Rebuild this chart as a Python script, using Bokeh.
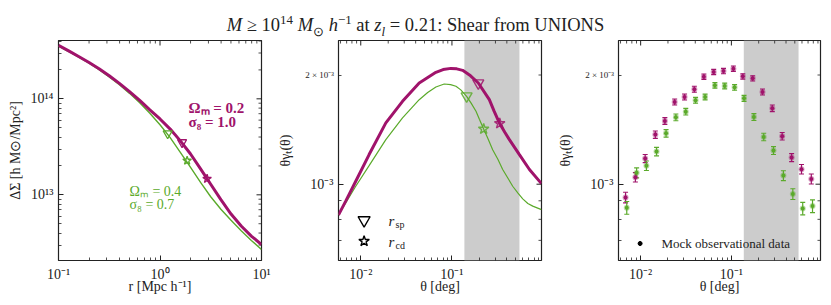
import numpy as np
from bokeh.plotting import figure
from bokeh.models import (FixedTicker, CustomJSTickFormatter, Label, BoxAnnotation,
                          Whisker, TeeHead, ColumnDataSource, Div, Range1d)
from bokeh.layouts import row, column
from bokeh.embed import file_html
from bokeh.resources import INLINE

# ---------------- data ----------------
# Left panel: excess surface density profiles
r_model = [0.1, 0.126, 0.158, 0.2, 0.251, 0.316, 0.398, 0.501, 0.631, 0.794, 1.0,
           1.26, 1.58, 2.0, 2.51, 3.16, 3.98, 5.01, 6.31, 7.94, 10.0]
ds_mag = [3.60e14, 3.16e14, 2.76e14, 2.39e14, 2.06e14, 1.74e14, 1.45e14, 1.19e14, 9.62e13, 7.67e13,
          6.17e13, 4.84e13, 3.67e13, 2.66e13, 1.86e13, 1.29e13, 8.91e12, 6.31e12, 4.73e12, 3.72e12, 3.04e12]
ds_grn = [3.54e14, 3.11e14, 2.72e14, 2.35e14, 2.01e14, 1.69e14, 1.40e14, 1.14e14, 9.12e13, 7.08e13,
          5.37e13, 3.94e13, 2.79e13, 1.93e13, 1.35e13, 9.55e12, 7.08e12, 5.43e12, 4.22e12, 3.35e12, 2.70e12]
# splashback (sp) and caustic-depletion (cd) radii markers
r_sp = {"mag": 1.65, "grn": 1.19}
ds_sp = {"mag": 3.52e13, "grn": 4.35e13}
r_cd = {"mag": 2.91, "grn": 1.85}
ds_cd = {"mag": 1.47e13, "grn": 2.27e13}

# Middle panel: model tangential shear
th_mag = [0.00569, 0.00684, 0.00881, 0.01235, 0.01884, 0.02871, 0.04375, 0.06668, 0.080, 0.0975, 0.113,
          0.1310, 0.160, 0.1946, 0.2572, 0.290, 0.3341, 0.380, 0.4266, 0.5495, 0.7079, 0.9588]
gt_mag = [8.22e-4, 8.98e-4, 1.019e-3, 1.207e-3, 1.476e-3, 1.692e-3, 1.901e-3, 2.034e-3, 2.070e-3, 2.086e-3,
          2.080e-3, 2.060e-3, 1.990e-3, 1.901e-3, 1.710e-3, 1.590e-3, 1.469e-3, 1.390e-3, 1.327e-3, 1.207e-3,
          1.098e-3, 1.004e-3]
th_grn = [0.00569, 0.00684, 0.00881, 0.01235, 0.01884, 0.02871, 0.04375, 0.0542, 0.06668, 0.0823, 0.0966,
          0.1107, 0.125, 0.1449, 0.163, 0.1836, 0.200, 0.2228, 0.250, 0.2797, 0.320, 0.3603, 0.410, 0.4640,
          0.530, 0.5978, 0.680, 0.7695, 0.9588]
gt_grn = [8.22e-4, 8.88e-4, 9.87e-4, 1.125e-3, 1.327e-3, 1.523e-3, 1.710e-3, 1.790e-3, 1.854e-3, 1.889e-3,
          1.882e-3, 1.862e-3, 1.820e-3, 1.747e-3, 1.670e-3, 1.589e-3, 1.510e-3, 1.420e-3, 1.330e-3, 1.245e-3,
          1.170e-3, 1.098e-3, 1.040e-3, 9.87e-4, 9.45e-4, 9.11e-4, 8.85e-4, 8.70e-4, 8.51e-4]
th_sp = {"mag": 0.1946, "grn": 0.1449}
gt_sp = {"mag": 1.90e-3, "grn": 1.75e-3}
th_cd = {"mag": 0.334, "grn": 0.2228}
gt_cd = {"mag": 1.47e-3, "grn": 1.42e-3}

# Right panel: mock observational data
obs_th_mag = [0.00682, 0.00875, 0.01122, 0.01452, 0.01849, 0.02371, 0.03048, 0.03908, 0.04977, 0.06383,
              0.08185, 0.1052, 0.1337, 0.1718, 0.2203, 0.2825, 0.3631, 0.4613, 0.5929, 0.7603]
obs_gt_mag = [9.19e-4, 1.045e-3, 1.177e-3, 1.370e-3, 1.494e-3, 1.685e-3, 1.740e-3, 1.827e-3, 1.979e-3, 2.039e-3,
              2.051e-3, 2.082e-3, 1.983e-3, 1.958e-3, 1.796e-3, 1.619e-3, 1.356e-3, 1.184e-3, 1.100e-3, 1.034e-3]
obs_err_mag = [3.1e-5, 3.1e-5, 3.0e-5, 3.2e-5, 3.2e-5, 3.2e-5, 3.3e-5, 3.5e-5, 3.3e-5, 3.4e-5,
               3.5e-5, 3.5e-5, 3.4e-5, 3.3e-5, 3.4e-5, 3.4e-5, 3.2e-5, 3.0e-5, 3.3e-5, 3.3e-5]
obs_th_grn = [0.00703, 0.00903, 0.01158, 0.01497, 0.01906, 0.02445, 0.03143, 0.04030, 0.05133, 0.06582,
              0.08441, 0.1085, 0.1379, 0.1771, 0.2272, 0.2913, 0.3744, 0.4757, 0.6114, 0.7841]
obs_gt_grn = [8.61e-4, 1.075e-3, 1.125e-3, 1.230e-3, 1.381e-3, 1.529e-3, 1.585e-3, 1.703e-3, 1.740e-3, 1.874e-3,
              1.866e-3, 1.850e-3, 1.725e-3, 1.532e-3, 1.350e-3, 1.238e-3, 1.056e-3, 9.39e-4, 8.57e-4, 8.70e-4]
obs_err_grn = [3.5e-5, 3.4e-5, 3.4e-5, 3.3e-5, 3.3e-5, 3.3e-5, 3.3e-5, 3.2e-5, 3.2e-5, 3.4e-5,
               3.4e-5, 3.4e-5, 3.3e-5, 3.3e-5, 3.2e-5, 3.1e-5, 3.3e-5, 3.2e-5, 3.4e-5, 3.5e-5]

# shaded angular range
shade_range = [0.137, 0.55]

# axis ranges and ticks
left_xr = [0.1, 10.0]
left_yr = [2.07e12, 4.05e14]
ang_xr = [0.0057, 0.96]
ang_yr = [6.16e-4, 2.49e-3]

left_xticks = [0.1, 1.0, 10.0]
left_xlabels = ["10⁻¹", "10⁰", "10¹"]
left_xminor = [0.2, 0.3, 0.4, 0.5, 0.6, 0.7, 0.8, 0.9, 2, 3, 4, 5, 6, 7, 8, 9]
left_yticks = [1e13, 1e14]
left_ylabels = ["10¹³", "10¹⁴"]
left_yminor = [3e12, 4e12, 5e12, 6e12, 7e12, 8e12, 9e12, 2e13, 3e13, 4e13, 5e13, 6e13, 7e13, 8e13, 9e13,
               2e14, 3e14, 4e14]
ang_xticks = [0.01, 0.1]
ang_xlabels = ["10⁻²", "10⁻¹"]
ang_xminor = [0.006, 0.007, 0.008, 0.009, 0.02, 0.03, 0.04, 0.05, 0.06, 0.07, 0.08, 0.09,
              0.2, 0.3, 0.4, 0.5, 0.6, 0.7, 0.8, 0.9]
ang_yticks = [1e-3]
ang_ylabels = ["10⁻³"]
ang_yminor = [7e-4, 8e-4, 9e-4, 2e-3]
ang_ysmall_tick = 2e-3
ang_ysmall_label = "2 × 10⁻³"

# ---------------- style ----------------
MAG = "#A0136B"
GRN = "#5BAA2B"
INK = "#222222"
FONT = "Liberation Serif"
FRAME_H = 220
H = FRAME_H + 37
TITLE_H = 40
PAGE_W = 831
# frame left edges (page px) of middle and right panels, used for the small tick label
FRAME_LEFTS = [338, 618]

SUP = 'style="font-size:70%; line-height:0;"'
title_text = (f'<i>M</i> ≥ 10<sup {SUP}>14</sup> <i>M</i><sub {SUP}>⊙</sub> '
              f'<i>h</i><sup {SUP}>−1</sup> at <i>z<sub {SUP}>l</sub></i> = 0.21: Shear from UNIONS')

# position of the 2 x 10^-3 tick inside the frame (px from top)
ysmall_from_top = (np.log10(ang_yr[1]) - np.log10(ang_ysmall_tick)) / \
    (np.log10(ang_yr[1]) - np.log10(ang_yr[0])) * FRAME_H
small_spans = "".join(
    f'<div style="position:absolute; left:{fl - 4 - 60}px; width:60px; text-align:right; '
    f'top:{TITLE_H + ysmall_from_top - 6:.1f}px; font-size:9px; line-height:12px; z-index:20; '
    f'white-space:nowrap;">{ang_ysmall_label}</div>'
    for fl in FRAME_LEFTS)
title_html = (f'<div style="position:relative; width:{PAGE_W}px; height:{TITLE_H}px;">'
              f'<div style="position:absolute; left:0px; width:{PAGE_W}px; top:15px; line-height:20px; '
              f'white-space:nowrap; text-align:center;">{title_text}</div>{small_spans}</div>')

FMT_CODE = """
for (let i = 0; i < tk.length; i++) {
  if (Math.abs(Math.log10(tick) - Math.log10(tk[i])) < 1e-6) { return lb[i]; }
}
return "";
"""


def frac_log(rng, f):
    lo, hi = np.log10(rng[0]), np.log10(rng[1])
    return 10 ** (lo + f * (hi - lo))


def style_axis(ax, ticks, minor, labels, standoff):
    ax.ticker = FixedTicker(ticks=ticks, minor_ticks=minor)
    ax.axis_line_color = None
    ax.major_tick_in = 5
    ax.major_tick_out = 0
    ax.minor_tick_in = 3
    ax.minor_tick_out = 0
    ax.major_tick_line_color = INK
    ax.minor_tick_line_color = INK
    ax.major_tick_line_width = 1
    ax.minor_tick_line_width = 0.8
    ax.formatter = CustomJSTickFormatter(args=dict(tk=ticks, lb=labels), code=FMT_CODE)
    ax.major_label_text_font = FONT
    ax.major_label_text_font_size = "14px"
    ax.major_label_text_color = INK
    ax.major_label_standoff = standoff
    ax.axis_label_text_font = FONT
    ax.axis_label_text_font_size = "14px"
    ax.axis_label_text_font_style = "normal"
    ax.axis_label_text_color = INK


def mirror_ticks(p, xr, yr, fw, fh, xt, xm, yt, ym):
    # inward ticks on the top and right edges of the frame
    ytop = yr[1]
    xs0, ys0, xs1, ys1 = [], [], [], []
    for ticks, L in ((xt, 5), (xm, 3)):
        for t in ticks:
            xs0.append(t); ys0.append(ytop); xs1.append(t); ys1.append(frac_log(yr, 1 - L / fh))
    xright = xr[1]
    for ticks, L in ((yt, 5), (ym, 3)):
        for t in ticks:
            xs0.append(xright); ys0.append(t); xs1.append(frac_log(xr, 1 - L / fw)); ys1.append(t)
    widths = [1.0] * (len(xt)) + [0.8] * len(xm) + [1.0] * len(yt) + [0.8] * len(ym)
    p.segment(xs0, ys0, xs1, ys1, line_color=INK, line_width=widths)


def make_fig(width, bl, br, fw, xr, yr, xt, xl, xm, yt, yl, ym, xlabel, ylabel, ylab_standoff):
    p = figure(width=width, height=H, x_axis_type="log", y_axis_type="log",
               x_range=Range1d(*xr), y_range=Range1d(*yr),
               output_backend="svg", toolbar_location=None,
               min_border_left=bl, min_border_right=br, min_border_top=0, min_border_bottom=37)
    p.outline_line_color = INK
    p.outline_line_width = 1.2
    p.xgrid.visible = False
    p.ygrid.visible = False
    bottom = p.below[0]
    leftax = p.left[0]
    style_axis(bottom, xt, xm, xl, 6)
    style_axis(leftax, yt, ym, yl, 5)
    bottom.axis_label = xlabel
    leftax.axis_label = ylabel
    bottom.axis_label_standoff = -6
    leftax.axis_label_standoff = ylab_standoff
    mirror_ticks(p, xr, yr, fw, FRAME_H, xt, xm, yt, ym)
    return p


# ---------------- left panel ----------------
p1 = make_fig(271, 58, 10, 203, left_xr, left_yr, left_xticks, left_xlabels, left_xminor,
              left_yticks, left_ylabels, left_yminor, "r [Mpc h⁻¹]", "ΔΣ [h M⊙/Mpc²]", 4)
p1.line(r_model, ds_grn, line_color=GRN, line_width=1.4)
p1.line(r_model, ds_mag, line_color=MAG, line_width=3)
for key, col in (("mag", MAG), ("grn", GRN)):
    p1.scatter([r_sp[key]], [ds_sp[key]], marker="inverted_triangle", size=9, fill_alpha=0,
               line_color=col, line_width=1.3)
    p1.scatter([r_cd[key]], [ds_cd[key]], marker="star", size=9, fill_alpha=0,
               line_color=col, line_width=1.3)

for txt, x, y, col, fs, bold in (("Ωₘ = 0.2", 130, 153, MAG, "15px", True),
                                 ("σ₈  = 1.0", 130, 139, MAG, "15px", True),
                                 ("Ωₘ = 0.4", 71, 69, GRN, "14px", False),
                                 ("σ₈  = 0.7", 71, 56, GRN, "14px", False)):
    p1.add_layout(Label(x=x, y=y, x_units="screen", y_units="screen", text=txt,
                        text_font=FONT, text_font_size=fs, text_color=col,
                        text_font_style="bold" if bold else "normal",
                        text_align="left", text_baseline="middle"))

# ---------------- middle panel ----------------
p2 = make_fig(280, 67, 10, 203, ang_xr, ang_yr, ang_xticks, ang_xlabels, ang_xminor,
              ang_yticks, ang_ylabels, ang_yminor, "θ [deg]", "θγₜ(θ)", 14)
p2.add_layout(BoxAnnotation(left=shade_range[0], right=shade_range[1], fill_color="#cccccc",
                            fill_alpha=1.0, line_alpha=0, level="underlay"))
p2.line(th_grn, gt_grn, line_color=GRN, line_width=1.2)
p2.line(th_mag, gt_mag, line_color=MAG, line_width=3)
for key, col in (("mag", MAG), ("grn", GRN)):
    p2.scatter([th_sp[key]], [gt_sp[key]], marker="inverted_triangle", size=11, fill_alpha=0,
               line_color=col, line_width=1.4, line_alpha=0.85)
    p2.scatter([th_cd[key]], [gt_cd[key]], marker="star", size=11, fill_alpha=0,
               line_color=col, line_width=1.4, line_alpha=0.85)

# legend
lx = frac_log(ang_xr, 25.6 / 203)
p2.scatter([lx], [frac_log(ang_yr, 40.3 / 220)], marker="inverted_triangle", size=12, fill_alpha=0,
           line_color="black", line_width=1.4)
p2.scatter([lx], [frac_log(ang_yr, 19.3 / 220)], marker="star", size=11, fill_alpha=0,
           line_color="black", line_width=1.4)
for main, sub, y in (("r", "sp", 40), ("r", "cd", 19)):
    p2.add_layout(Label(x=50, y=y, x_units="screen", y_units="screen", text=main,
                        text_font=FONT, text_font_size="15px", text_font_style="italic",
                        text_color=INK, text_align="left", text_baseline="middle"))
    p2.add_layout(Label(x=57, y=y - 4, x_units="screen", y_units="screen", text=sub,
                        text_font=FONT, text_font_size="10px",
                        text_color=INK, text_align="left", text_baseline="middle"))

# ---------------- right panel ----------------
p3 = make_fig(272, 67, 3, 202, ang_xr, ang_yr, ang_xticks, ang_xlabels, ang_xminor,
              ang_yticks, ang_ylabels, ang_yminor, "θ [deg]", "θγₜ(θ)", 14)
p3.add_layout(BoxAnnotation(left=shade_range[0], right=shade_range[1], fill_color="#cccccc",
                            fill_alpha=1.0, line_alpha=0, level="underlay"))
for th, gt, err, col in ((obs_th_mag, obs_gt_mag, obs_err_mag, MAG),
                         (obs_th_grn, obs_gt_grn, obs_err_grn, GRN)):
    src = ColumnDataSource(dict(x=th, y=gt,
                                lo=[g - e for g, e in zip(gt, err)],
                                hi=[g + e for g, e in zip(gt, err)]))
    p3.add_layout(Whisker(source=src, base="x", lower="lo", upper="hi", dimension="height",
                          line_color=col, line_width=1.2,
                          lower_head=TeeHead(size=5, line_color=col, line_width=1.1),
                          upper_head=TeeHead(size=5, line_color=col, line_width=1.1)))
    p3.scatter("x", "y", source=src, marker="circle", size=4, fill_color=col,
               line_color=col, line_alpha=0.4, line_width=2)

# legend
bx = frac_log(ang_xr, 21.6 / 202)
by = frac_log(ang_yr, 17 / 220)
p3.segment([bx], [by * 0.985], [bx], [by * 1.015], line_color="black", line_width=1.2)
p3.scatter([bx], [by], marker="circle", size=4, fill_color="black", line_color="black")
p3.add_layout(Label(x=43, y=17, x_units="screen", y_units="screen", text="Mock observational data",
                    text_font=FONT, text_font_size="13px", text_color=INK,
                    text_align="left", text_baseline="middle"))

title = Div(text=title_html, width=PAGE_W, height=TITLE_H, margin=0,
            styles={"font-family": "'Liberation Serif', serif", "font-size": "18.5px", "color": INK,
                    "overflow": "visible", "z-index": "20"})

layout = column(title, row(p1, p2, p3))
open("out.html", "w").write(file_html(layout, INLINE))
